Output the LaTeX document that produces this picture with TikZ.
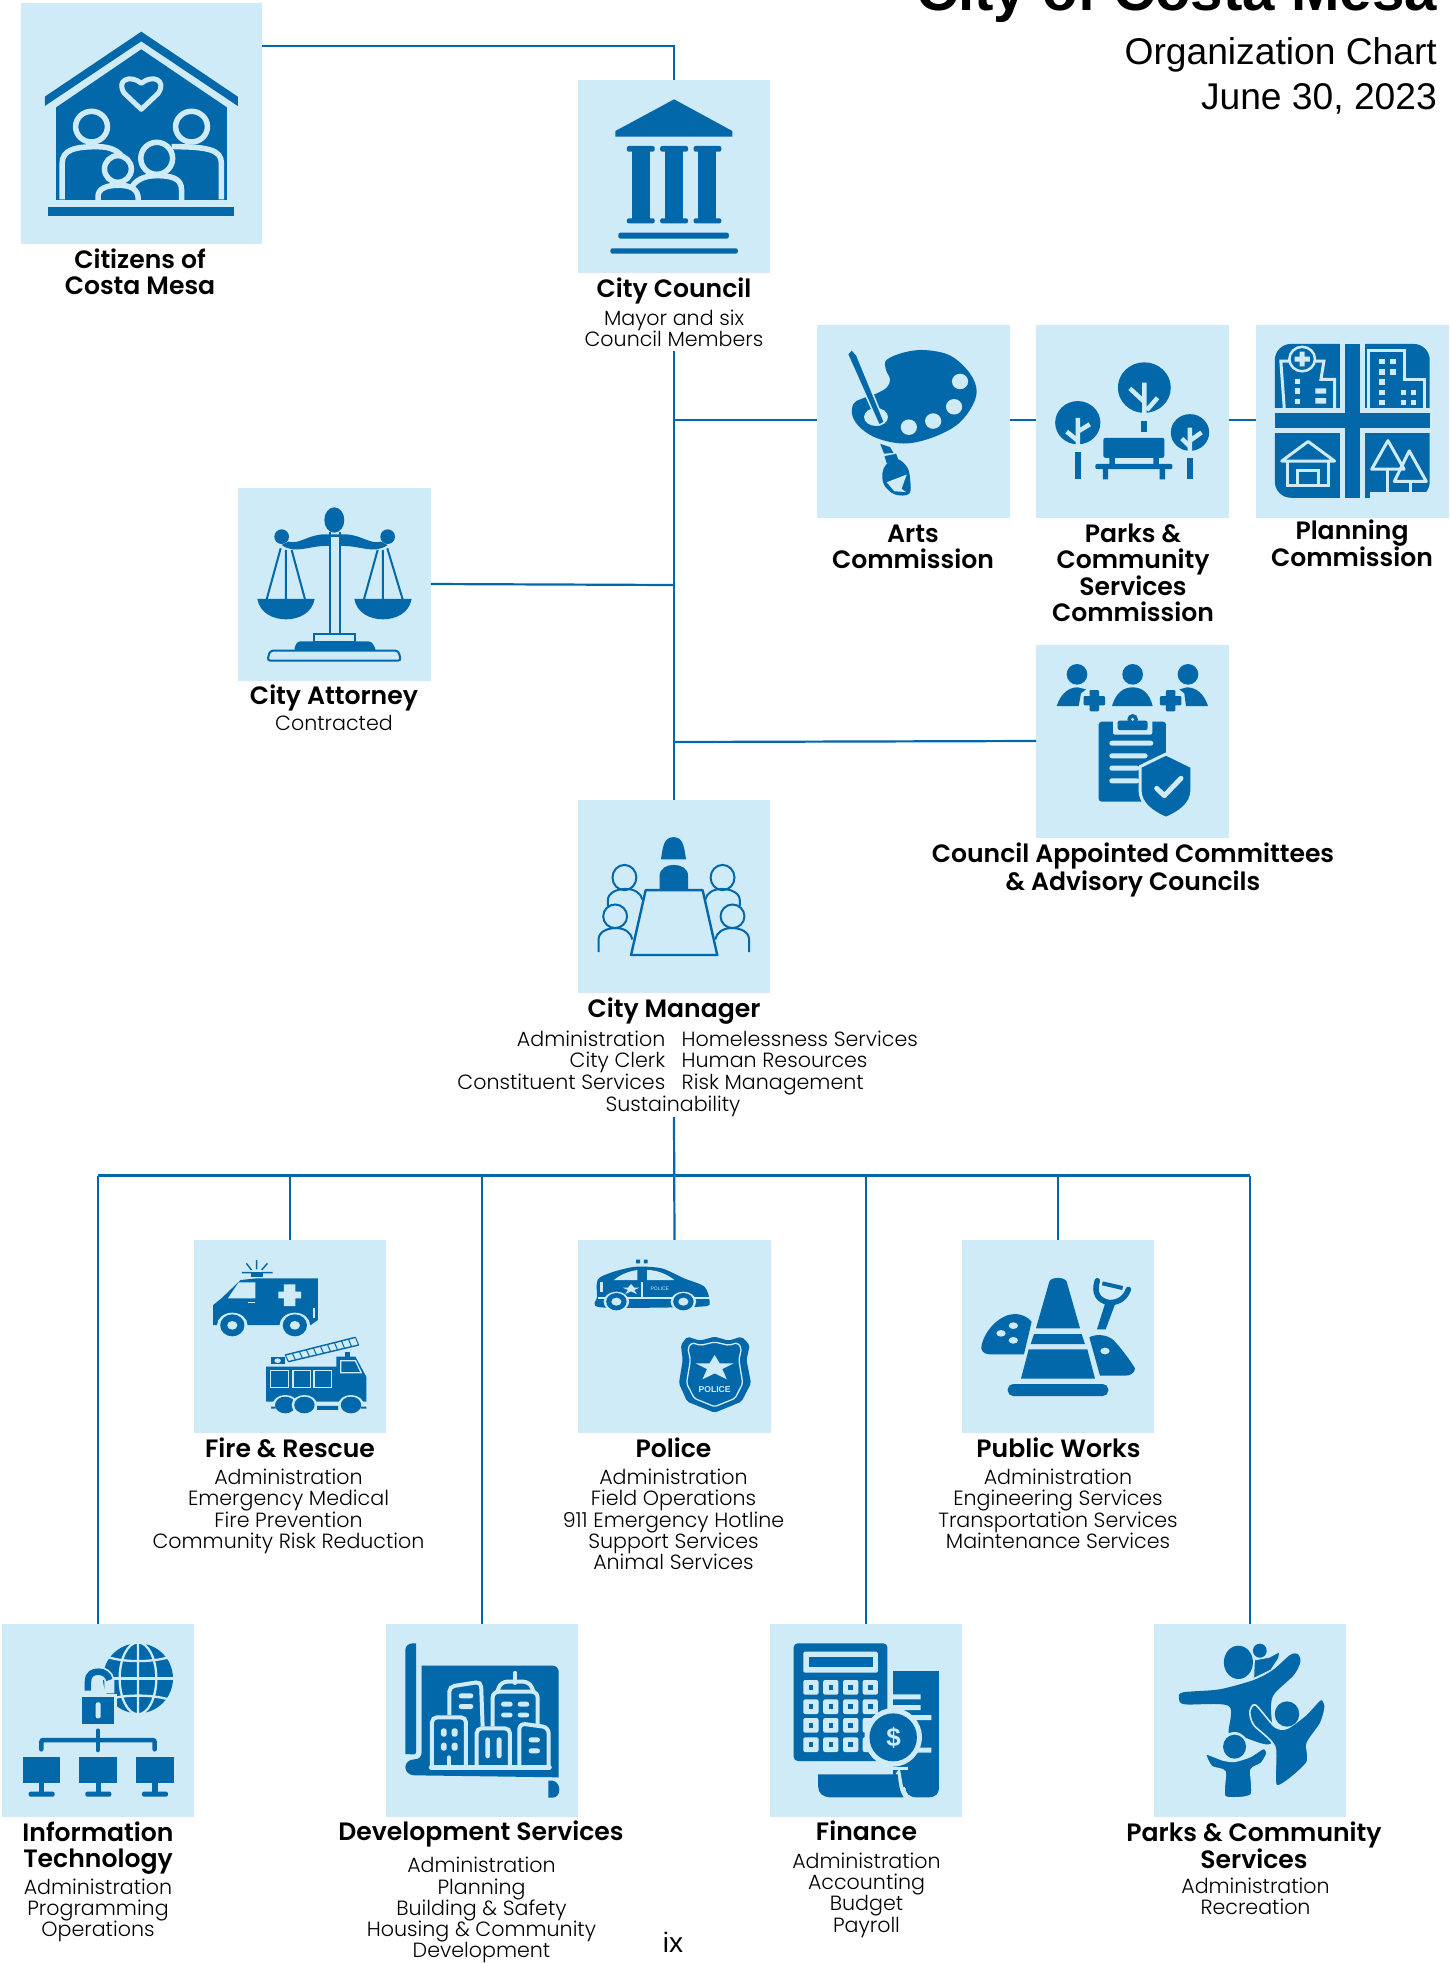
\documentclass[tikz,border=0pt]{standalone}
\usepackage{fontspec}
\setmainfont{Liberation Sans}
\newfontfamily\hdf{Poppins SemiBold}
\newfontfamily\ltf{Poppins Light}
\definecolor{boxc}{HTML}{CEEBF7}
\definecolor{icb}{HTML}{0268A9}
\tikzset{
 cardbox/.style={rectangle,fill=boxc,draw=none,inner sep=0pt,minimum width=192.5pt,minimum height=193pt},
 conn/.style={draw=icb,line width=2.2pt},
 hd/.style={anchor=north,align=center,inner sep=0pt,font=\hdf\fontsize{25.1}{26}\selectfont,text=black,execute at begin node={\rule{0pt}{20pt}}},
 it/.style={anchor=north,align=center,inner sep=0pt,font=\ltf\fontsize{20.6}{21.2}\selectfont,text=black,execute at begin node={\rule{0pt}{18pt}}},
 itb/.style={it,anchor=base},
 ib/.style={fill=icb,draw=none},
 lb/.style={fill=boxc,draw=none},
 ls/.style={draw=boxc,line width=#1,fill=none},
 ls/.default=2pt,
 ds/.style={draw=icb,line width=#1,fill=none},
 ds/.default=2pt,
 zone/.style={shift={(0,0)},x=0.4975pt,y=-0.3333pt},
 ztwo/.style={shift={(780,0)},x=0.4266pt,y=-0.408pt},
 zthree/.style={shift={(220,470)},x=0.663pt,y=-0.421pt},
 zfour/.style={shift={(180,1220)},x=0.638pt,y=-0.3333pt},
 zfive/.style={shift={(0,1600)},x=0.638pt,y=-0.3333pt},
 zsix/.style={shift={(760,1600)},x=0.3827pt,y=-0.3333pt},
 crop/.style 2 args={shift={(#1,#2)},x=0.3333pt,y=-0.3333pt},
}
\newcommand\DE[4]{\fill[ib] (#1,#2) ellipse (#3 and #4);}
\newcommand\LE[4]{\fill[lb] (#1,#2) ellipse (#3 and #4);}
\begin{document}
\begin{tikzpicture}[x=1pt,y=-1pt]
\useasboundingbox (0,0) rectangle (1449,1963);
\fill[white] (0,0) rectangle (1449,1963);
% title
\node[anchor=base east,inner sep=0pt,font=\bfseries\fontsize{58.2}{60}\selectfont] (title) at (1437,10) {City of Costa Mesa};
\node[anchor=base east,inner sep=0pt,font=\fontsize{37.2}{40}\selectfont] (sub1) at (1437,64) {Organization Chart};
\node[anchor=base east,inner sep=0pt,font=\fontsize{37.2}{40}\selectfont] (sub2) at (1437,109) {June 30, 2023};
% boxes
\node[cardbox,minimum width=241pt,minimum height=241pt] (cit) at (141,123.5) {};
\node[cardbox] (cou) at (674,176.5) {};
\node[cardbox] (art) at (913.5,421) {};
\node[cardbox] (par) at (1132.5,421) {};
\node[cardbox] (pla) at (1352.5,421) {};
\node[cardbox] (att) at (334.5,584) {};
\node[cardbox] (cac) at (1132.5,741) {};
\node[cardbox] (man) at (674,896.5) {};
\node[cardbox] (fir) at (290,1336.5) {};
\node[cardbox] (pol) at (674.5,1336.5) {};
\node[cardbox] (pub) at (1058,1336.5) {};
\node[cardbox] (inf) at (98,1720.5) {};
\node[cardbox] (dev) at (482,1720.5) {};
\node[cardbox] (fin) at (866,1720.5) {};
\node[cardbox] (pcs) at (1250,1720.5) {};
% connectors
\coordinate (c46) at (0,46);
\coordinate (cctop) at (674,351);
\coordinate (jart) at (674,420);
\coordinate (jatt) at (674,585);
\coordinate (jcac) at (674,742);
\coordinate (cmbot) at (674,1117);
\coordinate (bus) at (0,1175.5);
\draw[conn] (cit.east |- c46) -| (cou.north);
\draw[conn] (cctop) -- (man.north);
\draw[conn] (jart) -- (art.west |- jart);
\draw[conn] (art.east |- jart) -- (par.west |- jart);
\draw[conn] (par.east |- jart) -- (pla.west |- jart);
\draw[conn] (att.east) -- (jatt);
\draw[conn] (jcac) -- (cac.west);
\draw[conn] (cmbot) -- (pol.north);
\draw[conn,line cap=square] (inf.north |- bus) -- (pcs.north |- bus);
\foreach \n in {inf,fir,dev,fin,pub,pcs}{\draw[conn] (\n.north |- bus) -- (\n.north);}
% ---------- labels
\node[hd] (lcit) at (140,248.5) {Citizens of\hspace{6pt}\\Costa Mesa};
\node[hd] (lcou) at (674,277) {City Council};
\node[it] (lcou2) at (674,309.5) {Mayor and six\\Council Members};
\node[hd] (lart) at (913,524.5) {Arts\\Commission};
\node[hd] (lpar) at (1133,523.5) {Parks \&\\Community\\Services\\Commission};
\node[hd] (lpla) at (1352,519.5) {Planning\\Commission};
\node[hd] (latt) at (334,684) {City Attorney};
\node[it] (latt2) at (334,712) {Contracted};
\node[hd] (lcac) at (1133,843) {Council Appointed Committees\\\& Advisory Councils};
\node[hd] (lman) at (674,997) {City Manager};
\node[itb,anchor=base east] (m1) at (665.5,1046) {Administration};
\node[itb,anchor=base east] (m2) at (665.5,1067.4) {City Clerk};
\node[itb,anchor=base east] (m3) at (665.5,1089.2) {Constituent Services};
\node[itb,anchor=base west] (m4) at (681.5,1046) {Homelessness Services};
\node[itb,anchor=base west] (m5) at (681.5,1067.4) {Human Resources};
\node[itb,anchor=base west] (m6) at (681.5,1089.2) {Risk Management};
\node[itb] (m7) at (673,1111.4) {Sustainability};
\node[hd] (lfir) at (290,1437) {Fire \& Rescue};
\node[it] (lfir2) at (288.5,1469) {Administration\\Emergency Medical\\Fire Prevention\\Community Risk Reduction};
\node[hd] (lpol) at (673.5,1437) {Police};
\node[it] (lpol2) at (673.5,1469) {Administration\\Field Operations\\911 Emergency Hotline\\Support Services\\Animal Services};
\node[hd] (lpub) at (1058.5,1437) {Public Works};
\node[it] (lpub2) at (1058,1469) {Administration\\Engineering Services\\Transportation Services\\Maintenance Services};
\node[hd] (linf) at (98,1821.2) {Information\\Technology};
\node[it] (linf2) at (98,1878.5) {Administration\\Programming\\Operations};
\node[hd] (ldev) at (481,1820.7) {Development Services};
\node[it] (ldev2) at (481.5,1857.2) {Administration\\Planning\\Building \& Safety\\Housing \& Community\\Development};
\node[hd] (lfin) at (866.5,1820.7) {Finance};
\node[it] (lfin2) at (866.5,1852.8) {Administration\\Accounting\\Budget\\Payroll};
\node[hd] (lpcs) at (1254,1821.2) {Parks \& Community\\Services};
\node[it] (lpcs2) at (1255.5,1877.5) {Administration\\Recreation};
\node[anchor=base,inner sep=0pt,font=\fontsize{28}{30}\selectfont] (pg) at (673,1952.7) {ix};
% ---------- icons
\begin{scope}[zone]
\fill[ib] (284,95)--(478,290)--(478,318)--(284,124)--(90,318)--(90,290)--cycle;
\fill[ib] (284,148)--(456,322)--(456,600)--(113,600)--(113,322)--cycle;
\fill[ib] (97,620) rectangle (471,648);
\draw[ls=5pt,line join=round] (284,328)--(250,280) .. controls (232,240) and (262,222) .. (284,250) .. controls (306,222) and (336,240) .. (318,280)--cycle;
\draw[ls=5.5pt] (125,598)--(125,490) .. controls (125,450) and (150,440) .. (195,440) .. controls (225,440) and (240,455) .. (248,475);
\draw[ls=5.5pt] (445,598)--(445,490) .. controls (445,450) and (420,440) .. (345,440);
\filldraw[ls=5.5pt,fill=icb] (184,380) ellipse (32 and 46);
\filldraw[ls=5.5pt,fill=icb] (385,380) ellipse (32 and 46);
\filldraw[ls=5.5pt,fill=icb] (365,600)--(365,570) .. controls (365,535) and (345,527) .. (315,527) .. controls (290,527) and (270,540) .. (262,570)--(262,600);
\filldraw[ls=5.5pt,fill=icb] (315,475) ellipse (32 and 48);
\filldraw[ls=5.5pt,fill=icb] (197,600)--(197,590) .. controls (197,565) and (215,556) .. (237,556) .. controls (262,556) and (278,565) .. (278,600);
\filldraw[ls=5.5pt,fill=icb] (237,507) ellipse (27 and 40);
\fill[lb] (100,600) rectangle (470,620);
% council
\fill[ib] (1355,298)--(1472,393)--(1472,410)--(1237,410)--(1237,393)--cycle;
\foreach \c in {1288,1355,1422}{
 \fill[ib,rounded corners=2pt] (\c-28,438) rectangle (\c+28,455);
 \fill[ib] (\c-18,450) rectangle (\c+18,660);
 \fill[ib,rounded corners=2pt] (\c-28,655) rectangle (\c+28,670);
}
\fill[ib,rounded corners=2pt] (1243,698) rectangle (1465,716);
\fill[ib,rounded corners=2pt] (1227,745) rectangle (1483,761);
\end{scope}
% arts
\begin{scope}[ztwo]
\fill[ib] plot[smooth cycle,tension=.6] coordinates {(250,882)(290,864)(340,858)(400,872)(445,915)(461,960)(445,1005)(410,1045)(350,1075)(290,1087)(230,1075)(190,1050)(170,1020)(172,990)(190,978)(225,965)(250,950)(258,930)(248,905)};
\foreach \a/\b in {422/935,408/997,359/1032,302/1047}{\fill[lb] (\a,\b) circle (19);}
\LE{225}{1022}{28}{22}
\filldraw[ls=1.5pt,fill=icb,line join=round] (158,868)--(168,856)--(180,870)--(245,1035)--(232,1042)--cycle;
\fill[ib] (235,1088)--(258,1096)--(266,1110)--(244,1112)--cycle;
\fill[ib] (245,1118)--(272,1112)--(277,1125)--(250,1135)--cycle;
\fill[ib] plot[smooth cycle,tension=.6] coordinates {(250,1137)(275,1125)(298,1145)(305,1175)(303,1210)(270,1212)(245,1190)(240,1160)};
\fill[lb] (250,1182)--(297,1163)--(285,1198)--(295,1206)--(268,1204)--cycle;
% parks commission
\fill[ib] (854,950) circle (62);
\fill[ib] (698,1036) circle (53);
\fill[ib] (961,1060) circle (45);
\draw[ls=4.5pt] (854,938)--(854,1020) (820,952)--(854,985) (885,975)--(860,1005);
\draw[ls=4.5pt] (698,1024)--(698,1092) (672,1058)--(698,1080) (726,1040)--(698,1058);
\draw[ls=4.5pt] (961,1048)--(961,1108) (942,1075)--(961,1095) (988,1060)--(961,1080);
\fill[ib] (847,1032) rectangle (861,1058);
\fill[ib] (691,1107) rectangle (705,1175);
\fill[ib] (954,1122) rectangle (968,1175);
\fill[ib,rounded corners=2pt] (758,1073) rectangle (901,1122);
\fill[ib] (772,1120) rectangle (785,1138) (875,1120) rectangle (888,1138);
\fill[ib,rounded corners=2pt] (739,1137) rectangle (920,1150);
\fill[ib] (757,1150) rectangle (769,1175) (890,1150) rectangle (903,1175);
% planning
\fill[ib,rounded corners=16pt] (1160,843) rectangle (1523,1220);
\fill[lb] (1313,835) rectangle (1371,1225);
\fill[lb] (1155,1001) rectangle (1530,1062);
\fill[ib] (1325,843) rectangle (1359,1220);
\fill[ib] (1160,1013) rectangle (1523,1050);
\fill[lb] (1371,1207) rectangle (1530,1225);
\fill[ib] (1371,1190) rectangle (1384,1220);
\draw[ls=3pt] (1182,1000)--(1174,885)--(1275,885)--(1268,930)--(1300,930)--(1300,1000);
\filldraw[ls=2.5pt,fill=icb] (1224,880) circle (30);
\fill[lb] (1218,862) rectangle (1230,898) (1206,874) rectangle (1242,886);
\foreach \y in {928,952,977}{\fill[lb] (1207,\y) rectangle (1219,\y+13);}
\fill[lb] (1255,952) rectangle (1280,965) (1255,976) rectangle (1280,989);
\draw[ls=3pt] (1380,1000)--(1380,858)--(1465,858)--(1465,930)--(1510,930)--(1510,1000);
\foreach \a/\b in {1405/880,1430/880,1405/905,1430/905,1405/930,1405/955,1405/980,1455/955,1478/955,1455/980,1478/980}{\fill[lb] (\a,\b) rectangle (\a+13,\b+13);}
\draw[ls=3pt,line join=round] (1176,1130)--(1238,1082)--(1300,1130)--cycle;
\draw[ls=3pt] (1190,1130)--(1190,1190)--(1285,1190)--(1285,1130);
\draw[ls=3pt] (1212,1190)--(1212,1152)--(1263,1152)--(1263,1190);
\draw[ls=3pt,line join=round] (1425,1080)--(1387,1150)--(1463,1150)--cycle;
\draw[ls=3pt] (1425,1150)--(1425,1210);
\draw[ls=3pt,line join=round] (1475,1105)--(1440,1180)--(1515,1180)--cycle;
\draw[ls=3pt] (1478,1180)--(1478,1205);
\end{scope}
% attorney
\begin{scope}[crop={240}{490}]
\fill[ib] (266,125) rectangle (302,432);
\fill[lb] (272,127) rectangle (296,140);
\fill[ib] (145,155) .. controls (180,165) and (205,130) .. (266,133)--(302,133) .. controls (363,130) and (388,165) .. (423,155)--(443,165) .. controls (400,195) and (360,165) .. (302,168)--(266,168) .. controls (208,165) and (168,195) .. (125,165)--cycle;
\fill[lb] (272,142) rectangle (296,430);
\DE{283}{90}{30}{38}
\DE{125}{140}{22}{22}
\DE{443}{140}{22}{22}
\draw[ds=2pt] (122,175)--(80,328) (138,180)--(138,328) (155,180)--(195,328);
\draw[ds=2pt] (413,180)--(372,328) (429,180)--(429,328) (442,175)--(488,328);
\fill[ib] (52,327) .. controls (60,370) and (100,388) .. (138,388) .. controls (176,388) and (216,370) .. (224,327)--cycle;
\fill[ib] (343,327) .. controls (351,370) and (391,388) .. (429,388) .. controls (467,388) and (507,370) .. (515,327)--cycle;
\filldraw[ds=2pt,fill=boxc] (222,432) rectangle (346,455);
\fill[ib,rounded corners=3pt] (160,482)--(172,454)--(394,454)--(410,482)--cycle;
\draw[ds=2pt,rounded corners=3pt] (82,512)--(90,482)--(475,482)--(483,512)--cycle;
\end{scope}
% committee
\begin{scope}[crop={1036}{650}]
\foreach \a in {123,290,456}{\fill[ib] (\a,73) circle (31);}
\fill[ib] (228,168) .. controls (240,128) and (262,112) .. (290,112) .. controls (318,112) and (340,128) .. (350,168)--cycle;
\fill[ib] (62,168) .. controls (75,128) and (100,112) .. (125,112)--(150,118)--(135,130)--(128,168)--cycle;
\fill[ib] (516,168) .. controls (503,128) and (478,112) .. (453,112)--(430,118)--(445,130)--(450,168)--cycle;
\foreach \a in {175,404}{\fill[ib,rounded corners=1pt] (\a-14,120) rectangle (\a+14,184) (\a-32,138) rectangle (\a+32,166);}
\fill[ib,rounded corners=3pt] (188,215) rectangle (390,455);
\fill[lb,rounded corners=2pt] (231,200) rectangle (349,254);
\fill[ib,rounded corners=2pt] (245,212) rectangle (335,240);
\fill[ib] (290,208) circle (16);
\fill[lb] (290,208) circle (5);
\fill[lb,rounded corners=2.5pt] (220,272) rectangle (352,287) (220,310) rectangle (335,325) (220,347) rectangle (310,362) (220,385) rectangle (310,400);
\filldraw[ls=3pt,fill=icb,line join=round] (390,312)--(468,350)--(468,420) .. controls (468,465) and (425,490) .. (390,505) .. controls (355,490) and (312,465) .. (312,420)--(312,350)--cycle;
\draw[ls=5pt,line cap=round,line join=round] (362,415)--(385,437)--(435,385);
\end{scope}
\begin{scope}[zthree]
% manager
\fill[ib] (665,925) .. controls (668,900) and (668,872) .. (684,872) .. controls (700,872) and (700,900) .. (703,925)--cycle;
\fill[ib] (663,998)--(663,965) .. controls (663,945) and (675,938) .. (684,938) .. controls (695,938) and (706,945) .. (706,965)--(706,998)--cycle;
\draw[ds=2.4pt,line join=round] (642,998)--(728,998)--(750,1152)--(620,1152)--cycle;
\draw[ds=2pt] (610,968) ellipse (18 and 30) (758,968) ellipse (18 and 30) (596,1060) ellipse (18 and 28) (773,1060) ellipse (18 and 28);
\draw[ds=2pt] (585,1035)--(585,1022) .. controls (585,1005) and (598,995) .. (612,995) .. controls (625,995) and (635,1005) .. (637,1020);
\draw[ds=2pt] (784,1035)--(784,1022) .. controls (784,1005) and (771,995) .. (757,995) .. controls (744,995) and (734,1005) .. (732,1020);
\draw[ds=2pt] (571,1145)--(571,1115) .. controls (571,1098) and (583,1088) .. (597,1088) .. controls (610,1088) and (620,1098) .. (622,1115);
\draw[ds=2pt] (798,1145)--(798,1115) .. controls (798,1098) and (786,1088) .. (772,1088) .. controls (759,1088) and (749,1098) .. (747,1115);
\end{scope}
% fire & rescue
\begin{scope}[zfour]
\fill[ib] (52,315)--(52,255)--(65,235)--(95,180)--(120,175)--(216,175)--(216,300)--(205,315)--cycle;
\fill[lb] (75,235)--(92,187)--(118,187)--(118,235)--cycle;
\fill[lb] (163,193) rectangle (181,258) (154,215) rectangle (190,235);
\fill[lb] (208,265) rectangle (212,295);
\fill[lb] (107,245) rectangle (118,249);
\foreach \a in {82,180}{\LE{\a}{316}{24}{38}\DE{\a}{316}{19}{33}\LE{\a}{316}{8}{13}}
\fill[ib] (112,155) rectangle (130,170);
\draw[ds=1.4pt] (97,158)--(112,158) (130,158)--(145,158) (120,120)--(120,148) (104,130)--(112,150) (137,130)--(128,150);
\fill[ib] (135,545)--(135,440)--(245,440)--(245,410)--(275,410)--(292,470)--(292,545)--cycle;
\filldraw[ls=1.3pt,fill=icb] (142,452) rectangle (170,502) (177,452) rectangle (204,502) (210,452) rectangle (238,502);
\filldraw[ls=1.3pt,fill=icb] (252,422)--(275,422)--(284,458)--(252,458)--cycle;
\fill[ib] (142,410) rectangle (165,433);
\LE{153}{422}{5}{7}
\draw[ds=1.4pt] (165,405)--(275,352) (170,425)--(280,375);
\foreach \t in {0,.1,...,1.01}{\draw[ds=1pt] ({165+110*\t},{405-53*\t})--({170+110*\t},{425-50*\t});}
\fill[ib] (258,395) rectangle (266,410);
\foreach \a in {165,195,268}{\LE{\a}{555}{20}{30}\DE{\a}{555}{16}{25}}
\fill[ib] (143,560) rectangle (150,566) (215,558) rectangle (248,570) (283,560) rectangle (292,566);
% police car
\fill[ib] plot[smooth cycle,tension=.45] coordinates {(655,178)(680,155)(715,140)(755,145)(790,175)(822,200)(830,245)(815,260)(660,262)(654,230)};
\fill[lb] (680,180) .. controls (690,165) and (700,155) .. (717,150)--(717,180)--cycle;
\fill[lb] (732,150) .. controls (750,150) and (765,165) .. (775,180)--(732,180)--cycle;
\fill[lb] (655,232) rectangle (830,237);
\fill[lb] (722,185) rectangle (725,232);
\fill[lb] (659,185) rectangle (663,215);
\fill[lb] (707,192)--(712,203)--(720,203)--(712,210)--(716,222)--(707,214)--(698,222)--(702,210)--(694,203)--(702,203)--cycle;
\node[inner sep=0pt,text=boxc,font=\fontsize{5}{6}\selectfont] (carp) at (752,206) {POLICE};
\foreach \a in {684,789}{\LE{\a}{245}{20}{30}\DE{\a}{245}{16}{26}\LE{\a}{245}{8}{12}}
\fill[ib] (715,119) rectangle (721,130) (727,119) rectangle (733,130);
% badge
\fill[ib,rounded corners=2pt] (785,375)--(795,350)--(815,362)--(838,350)--(860,362)--(880,350)--(893,375)--(888,420)--(895,490)--(880,545)--(838,578)--(795,545)--(782,490)--(788,420)--cycle;
\draw[ls=1.3pt,rounded corners=2pt] (796,385)--(802,368)--(816,376)--(838,366)--(860,376)--(874,368)--(880,385)--(876,420)--(882,490)--(870,535)--(838,560)--(806,535)--(794,490)--(800,420)--cycle;
\fill[lb] (838,405)--(846,430)--(868,430)--(850,447)--(857,478)--(838,460)--(819,478)--(826,447)--(808,430)--(830,430)--cycle;
\node[inner sep=0pt,text=boxc,font=\bfseries\fontsize{8.6}{10}\selectfont] (bdgp) at (838,508) {POLICE};
\end{scope}
% public works
\begin{scope}[crop={960}{1260}]
\fill[ib] (228,205)--(268,65) .. controls (272,50) and (315,50) .. (320,65)--(360,205)--cycle;
\fill[ib] (222,222)--(365,222)--(375,252)--(212,252)--cycle;
\fill[ib] (206,268)--(382,268)--(405,356)--(183,356)--cycle;
\fill[ib,rounded corners=5.5pt] (143,372) rectangle (445,408);
\fill[ib] (65,255) .. controls (75,210) and (120,162) .. (165,162) .. controls (185,162) and (205,172) .. (215,185)--(192,283)--(90,283) .. controls (70,283) and (60,270) .. (65,255)--cycle;
\LE{160}{197}{14}{10}\LE{123}{220}{14}{10}\LE{160}{241}{14}{10}
\fill[ib] (388,232) .. controls (405,222) and (440,222) .. (460,240) .. controls (480,260) and (510,300) .. (525,325) .. controls (525,340) and (510,347) .. (495,347)--(420,347)--cycle;
\LE{435}{273}{14}{10}
\draw[ds=5.5pt,line cap=round] (412,62) .. controls (400,100) and (415,122) .. (448,128) .. controls (480,128) and (498,110) .. (505,88);
\fill[ib] (437,125)--(468,125)--(437,208)--(411,208)--cycle;
\draw[ds=4pt] (427,70)--(488,84);
\end{scope}
% information technology
\begin{scope}[crop={2}{1630}]
\fill[ib] (408,145) ellipse (105 and 105);
\draw[ls=2.3pt] (408,35)--(408,255) (408,145) ellipse (55 and 108);
\draw[ls=2.3pt] (320,82) .. controls (370,97) and (445,97) .. (500,82);
\draw[ls=2.3pt] (320,208) .. controls (370,193) and (445,193) .. (500,208);
\draw[ls=2.3pt] (300,145)--(515,145);
\fill[lb] (232,192) rectangle (345,290);
\draw[ls=10pt] (322,190)--(322,150) .. controls (320,135) and (305,125) .. (290,125);
\draw[ds=6.5pt] (258,182)--(258,155) .. controls (258,130) and (275,125) .. (290,125) .. controls (305,125) and (320,135) .. (322,150);
\fill[ib] (240,200) rectangle (337,283);
\fill[lb,rounded corners=2pt] (281,217) rectangle (296,265);
\draw[ds=4.5pt,line cap=round] (288,302)--(288,360);
\draw[ds=4.5pt,line cap=round,rounded corners=2pt] (118,358)--(118,330)--(458,330)--(458,358);
\foreach \d in {0,170,340}{
 \fill[ib] (62+\d,380) rectangle (175+\d,460);
 \fill[ib] (111+\d,460) rectangle (127+\d,490);
 \fill[ib,rounded corners=2pt] (80+\d,485) rectangle (158+\d,500);
}
\end{scope}
% development
\begin{scope}[crop={386}{1630}]
\fill[ib] (58,372)--(58,60) .. controls (58,48) and (68,40) .. (80,40)--(90,40)--(90,365) .. controls (90,378) and (80,372) .. (58,372)--cycle;
\fill[ib] (107,107)--(500,107) .. controls (510,107) and (518,115) .. (518,125)--(518,442)--(85,436) .. controls (70,436) and (58,425) .. (58,412) .. controls (58,398) and (70,388) .. (85,388) .. controls (100,388) and (107,380) .. (107,365)--cycle;
\fill[ib] (487,452)--(500,452) .. controls (515,455) and (520,468) .. (520,480) .. controls (520,492) and (512,503) .. (500,503)--(487,503)--cycle;
\draw[ls=4pt,rounded corners=5pt] (190,255)--(190,170)--(285,155)--(290,290);
\draw[ls=3.5pt,line cap=round] (387,128)--(387,160);
\draw[ls=4pt,rounded corners=6pt] (332,190)--(345,155)--(430,155)--(445,190);
\draw[ls=4pt,rounded corners=6pt] (320,290)--(320,185)--(455,185)--(455,285);
\filldraw[ls=4pt,fill=icb,rounded corners=5pt] (138,412)--(138,262)--(240,262)--(240,412);
\filldraw[ls=4pt,fill=icb,rounded corners=5pt] (272,412)--(272,295)--(372,295)--(372,412);
\filldraw[ls=4pt,fill=icb,rounded corners=6pt] (400,412)--(400,280)--(488,292)--(488,412);
\draw[ls=5pt,line cap=round] (136,412)--(490,412);
\fill[lb,rounded corners=2.5pt] (218,190) rectangle (262,205) (218,222) rectangle (262,237) (345,215) rectangle (380,230) (395,215) rectangle (430,230) (345,248) rectangle (380,262) (395,248) rectangle (430,262) (165,295) rectangle (182,320) (197,295) rectangle (215,320) (165,338) rectangle (182,362) (197,338) rectangle (215,362) (298,322) rectangle (312,385) (332,322) rectangle (347,385) (428,322) rectangle (462,337) (428,355) rectangle (462,370);
\draw[ls=4pt,line cap=round] (189,382)--(189,412);
\end{scope}
% finance
\begin{scope}[zsix]
\fill[ib] (348,214) rectangle (468,560);
\fill[ib] (380,505) rectangle (468,565);
\fill[ib] (380,560)--(468,560) .. controls (468,580) and (460,592) .. (440,592)--(410,592) .. controls (390,592) and (380,580) .. (380,560)--cycle;
\fill[ib,rounded corners=4pt] (88,130) rectangle (333,483);
\fill[lb,rounded corners=1.5pt] (113,155) rectangle (308,218);
\fill[ib] (128,172) rectangle (294,202);
\foreach \y in {262,320,376,434}{\foreach \a in {133,185,237,288}{
 \fill[lb,rounded corners=2pt] (\a-20,\y-22) rectangle (\a+20,\y+22);
 \fill[ib] (\a-6,\y-7) rectangle (\a+6,\y+7);
}}
\fill[lb] (335,283) rectangle (420,298) (335,315) rectangle (420,330) (335,345) rectangle (448,360) (335,443) rectangle (448,458);
\LE{348}{412}{75}{88}
\DE{348}{412}{62}{72}
\node[inner sep=0pt,text=boxc,font=\bfseries\fontsize{26}{28}\selectfont] (dol) at (349,412) {\$};
\fill[lb] (255,500) rectangle (388,510);
\fill[lb] (365,505) .. controls (372,540) and (372,570) .. (385,595)--(370,597)--(355,520)--cycle;
\fill[ib] (152,523)--(360,523) .. controls (362,550) and (365,575) .. (375,592)--(185,592) .. controls (165,592) and (152,580) .. (152,560)--cycle;
% parks community services
\fill[ib] plot[smooth cycle,tension=.5] coordinates {(1095,295)(1105,277)(1200,268)(1290,240)(1340,210)(1385,165)(1405,162)(1412,185)(1395,225)(1345,280)(1335,320)(1335,430)(1260,410)(1225,400)(1225,318)(1110,313)};
\DE{1250}{187}{38}{50}
\filldraw[ls=.8pt,fill=icb] (1290,235)--(1292,180)--(1330,172)--(1358,155)--(1355,175)--(1335,210)--cycle;
\DE{1306}{152}{18}{21}
\filldraw[ls=1.6pt,fill=icb,line join=round] plot[smooth cycle,tension=.45] coordinates {(1280,335)(1295,315)(1345,380)(1377,385)(1425,345)(1465,298)(1477,320)(1465,370)(1430,430)(1428,490)(1350,558)(1345,440)(1290,375)};
\DE{1377}{342}{32}{38}
\fill[lb] (1240,440) ellipse (36 and 44);
\DE{1240}{440}{30}{36}
\filldraw[ls=1.6pt,fill=icb,line join=round] plot[smooth cycle,tension=.4] coordinates {(1165,462)(1210,480)(1240,484)(1280,470)(1315,445)(1325,460)(1310,490)(1283,510)(1283,585)(1215,590)(1215,515)(1180,500)};
\end{scope}
\end{tikzpicture}
\end{document}
